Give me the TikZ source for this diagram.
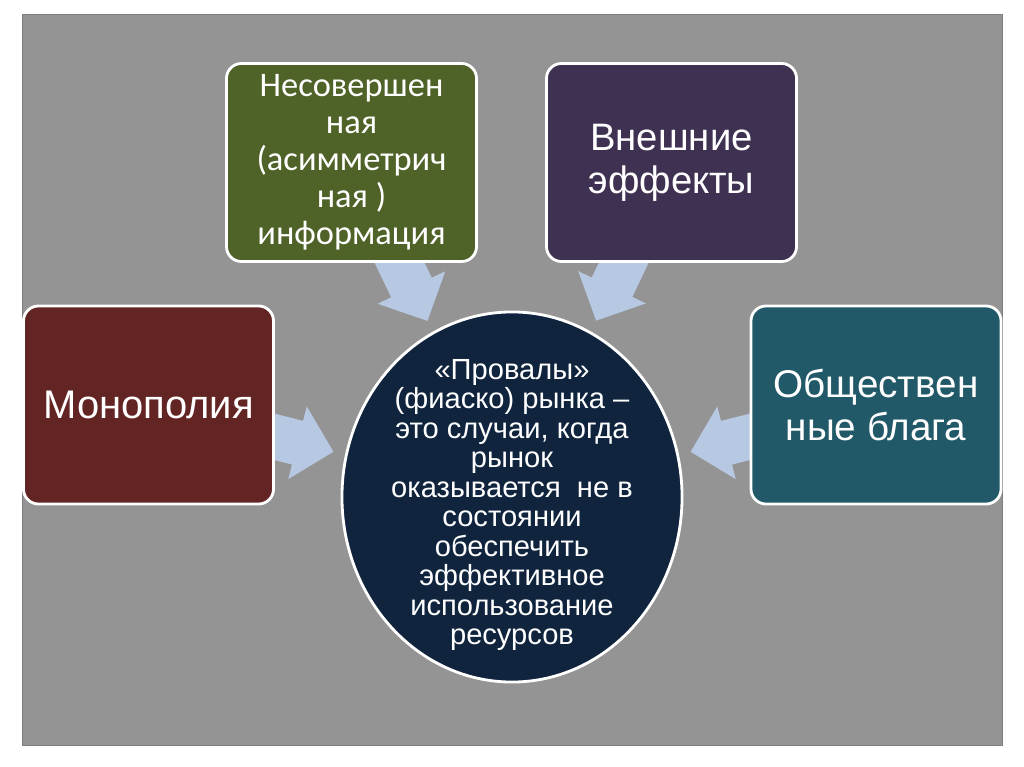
\documentclass[tikz,border=0pt]{standalone}
\usepackage{fontspec}
\setmainfont{Liberation Sans}
\newfontfamily\boxfont{Carlito}
\usetikzlibrary{calc,backgrounds,shapes.geometric,positioning}

\definecolor{slidegray}{HTML}{949494}
\definecolor{infogreen}{HTML}{4F6228}
\definecolor{extviolet}{HTML}{3F3151}
\definecolor{monored}{HTML}{632523}
\definecolor{pubteal}{HTML}{215968}
\definecolor{failnavy}{HTML}{10243E}
\definecolor{arrowblue}{HTML}{B7C9E2}

% block arrow from the border of #1 towards the border of #2
\newcommand{\flowarrow}[2]{%
  \path (#1) -- (#2) coordinate[pos=0] (#1-out) coordinate[pos=1] (#1-in);
  \coordinate (#1-tip) at ($(#1-in)!0.3cm!(#1-out)$);
  \coordinate (#1-tail) at ($(#1-out)!-0.3cm!(#1-in)$);
  \coordinate (#1-neck) at ($(#1-tip)!0.925cm!(#1-tail)$);
  \fill[arrowblue] ($(#1-tail)!0.5625cm!90:(#1-tip)$)
    -- ($(#1-neck)!0.5625cm!90:(#1-tip)$)
    -- ($(#1-neck)!0.9375cm!90:(#1-tip)$)
    -- (#1-tip)
    -- ($(#1-neck)!0.9375cm!-90:(#1-tip)$)
    -- ($(#1-neck)!0.5625cm!-90:(#1-tip)$)
    -- ($(#1-tail)!0.5625cm!-90:(#1-tip)$) -- cycle;}

\begin{document}
\begin{tikzpicture}[x=0.025cm,y=-0.025cm,semithick]
  \tikzstyle{box}=[rectangle,rounded corners=0.375cm,draw=white,line width=2pt,text=white,align=center,minimum width=6.25cm,minimum height=4.95cm]

  \node[ellipse,draw=white,line width=2pt,fill=failnavy,minimum width=8.5cm,minimum height=9.25cm,inner sep=0pt] (fail) at (512,497) {};
  \node[text=white,align=center,font=\fontsize{20.7}{21}\selectfont,yshift=-0.2cm] (failtext) at (fail.center) {«Провалы»\\(фиаско) рынка --\\это случаи, когда\\рынок\\оказывается~ не в\\состоянии\\обеспечить\\эффективное\\использование\\ресурсов};

  \node[box,fill=infogreen,font=\boxfont\fontsize{24.5}{26.3}\selectfont] (info) at (351.5,162.5) {Несовершен\\ная\\(асимметрич\\ная )\\информация};
  \node[box,fill=extviolet,font=\fontsize{27.2}{30.6}\selectfont] (ext) at (671.5,162.5) {Внешние\\эффекты};
  \node[box,fill=monored,font=\fontsize{28.4}{30.6}\selectfont] (mono) at (148.5,405) {Монополия};
  \node[box,fill=pubteal,font=\fontsize{27.5}{30.6}\selectfont] (pub) at (876,405) {Обществен\\ные блага};

  \begin{scope}[on background layer]
    \useasboundingbox[fill=white] (0,0) rectangle (1024,767);
    \filldraw[fill=slidegray,draw=slidegray!85!black,thin] (22,14) rectangle (1002,745);
    \foreach \src in {info,ext,mono,pub}
      \flowarrow{\src}{fail};
  \end{scope}
\end{tikzpicture}
\end{document}
